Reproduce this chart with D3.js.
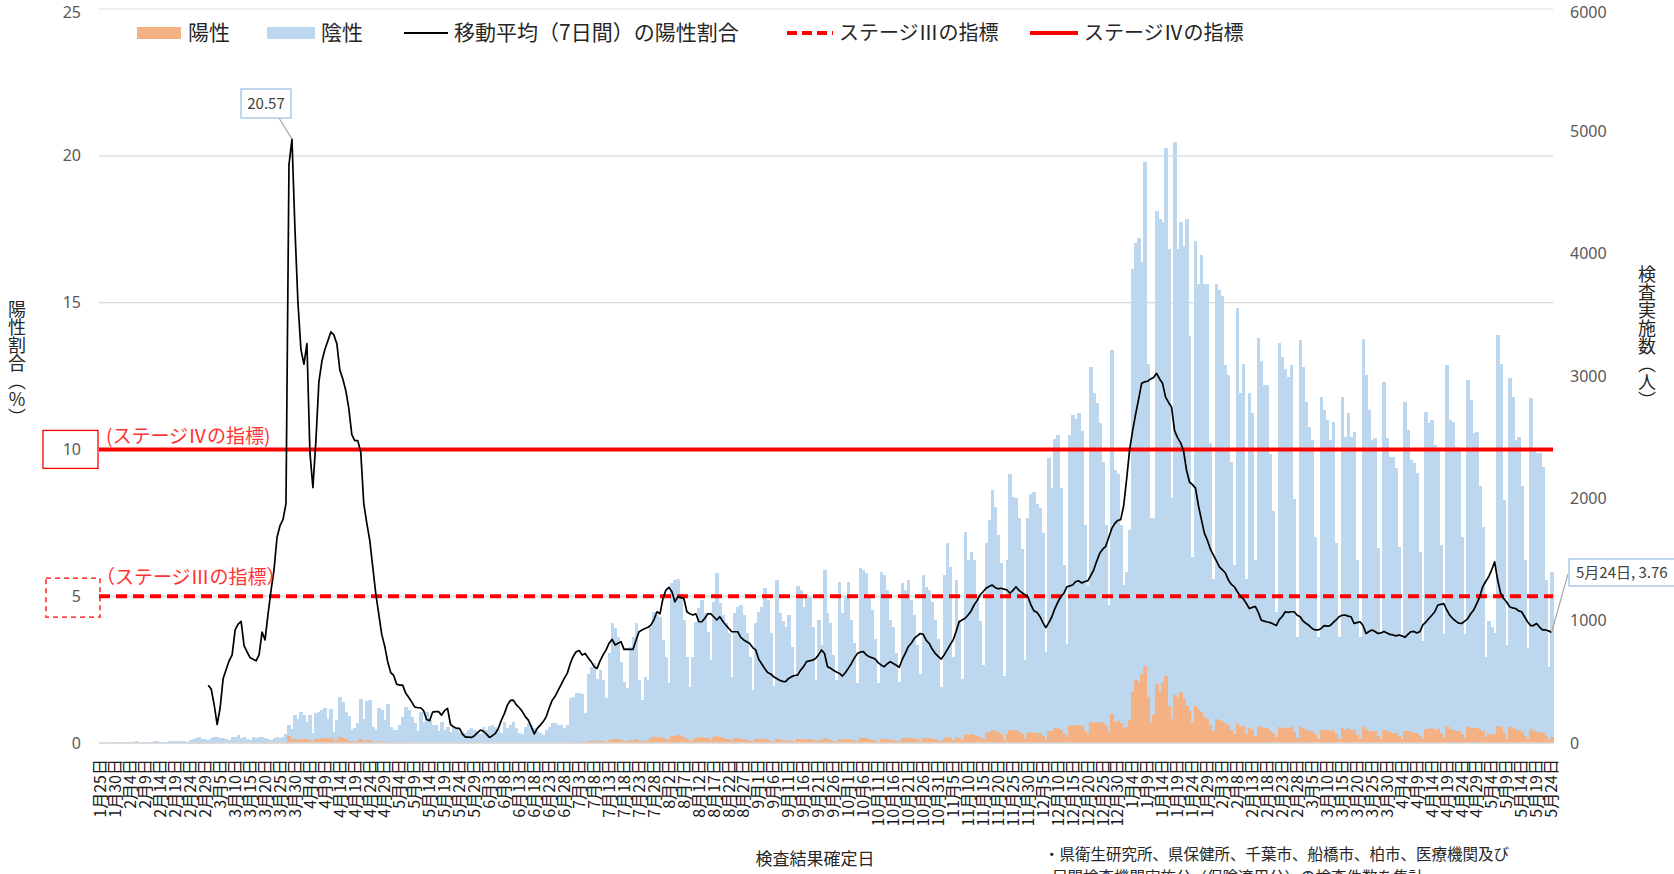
<!DOCTYPE html>
<html><head><meta charset="utf-8">
<script src="https://cdn.jsdelivr.net/npm/d3@7"></script>
<style>
body{margin:0;background:#fff;}
svg{display:block;font-family:"Noto Sans CJK JP","Noto Sans",sans-serif;}
</style></head><body>
<svg id="chart" width="1674" height="874"></svg>
<script>
// ---- categories: daily result dates 2020-01-25 .. 2021-05-24 ----
const firstDay = new Date(2020, 0, 25);
const lastDayExclusive = new Date(2021, 4, 25);
const dates = d3.timeDay.range(firstDay, lastDayExclusive);

// ---- 陽性 (positive), daily, weeks Sat..Fri ----
const positive = [
0,0,0,0,0,0,0, 0,0,0,0,0,0,0, 0,0,0,0,1,0,0, 0,0,0,1,0,0,0, 0,0,0,0,0,1,0,
1,0,1,0,0,1,1, 1,1,2,2,1,1,2, 1,1,2,1,1,2,1, 2,3,5,6,5,4,8, 60,25,30,28,33,35,30,
25,10,32,35,38,40,30, 38,15,25,45,40,32,18, 14,12,18,35,20,28,25, 10,5,14,12,8,10,5,
3,3,4,5,6,4,3, 2,1,3,2,3,2,2, 2,1,2,1,1,1,0, 1,0,0,0,1,0,0, 0,0,1,0,0,1,0,
1,0,2,2,3,2,1, 1,1,2,1,1,1,0, 0,1,1,2,2,3,3, 3,2,4,8,10,12,12, 11,6,14,15,16,15,18,
15,12,25,30,32,30,22, 18,14,25,28,32,18,14, 20,18,38,45,50,48,40, 35,25,60,58,62,55,45,
30,20,25,40,45,48,42, 38,28,45,55,45,38,35, 30,20,38,40,36,30,25, 20,14,30,32,30,32,28,
20,10,30,24,22,20,22, 18,12,32,30,28,30,32, 25,14,25,22,40,30,25, 18,12,32,28,32,35,26,
22,14,40,38,38,32,28, 22,12,36,35,32,26,24, 18,14,38,40,42,40,36, 30,20,44,40,38,34,30,
24,14,42,48,45,28,48, 40,22,70,62,70,68,55, 48,32,80,92,105,95,90, 75,28,70,110,100,104,90,
75,30,85,88,85,80,78, 60,28,100,95,120,125,105, 75,45,135,145,140,150,135, 95,75,170,165,175,170,160,
140,90,240,175,180,160,120, 130,190,420,517,500,560,630, 380,160,225,485,420,500,550, 300,200,390,380,420,360,300,
260,160,300,280,250,215,200, 150,100,200,190,180,160,150, 110,70,160,130,140,70,120, 110,60,140,130,120,120,100,
80,45,130,125,125,125,130, 90,40,140,125,110,100,100, 70,35,110,105,105,100,105, 70,35,120,110,120,110,110,
65,36,130,115,100,95,95, 60,32,110,95,90,85,85, 60,32,100,95,90,85,85, 60,35,115,115,120,110,115,
80,42,140,115,105,100,100, 75,40,130,125,120,125,110, 95,50,75,70,65,140,130, 85,35,130,125,110,110,90,
60,30,115,95,90,90,85, 55,22,50
];

// ---- 検査実施数 (tests = 陽性 + 陰性), daily, weeks Sat..Fri ----
const tested = [
2,1,3,4,3,5,6, 8,4,10,12,9,14,10, 7,5,10,12,15,14,12, 10,8,15,18,20,16,18, 14,10,25,30,38,46,35,
30,22,40,45,52,38,44, 35,26,48,52,65,44,50, 30,24,45,40,52,48,38, 32,28,44,50,40,52,70, 150,118,230,200,250,229,174,
229,82,248,256,270,283,200, 280,92,188,378,337,256,220, 106,120,161,357,200,346,350, 133,110,283,270,188,320,133,
106,110,147,215,297,270,215, 161,100,256,174,256,188,147, 147,100,174,106,133,92,130, 106,80,92,80,110,120,110, 100,70,130,110,140,147,130,
110,80,174,120,150,174,120, 85,70,133,161,150,120,100, 79,65,106,133,161,161,150, 150,120,147,365,380,406,406, 400,245,560,620,650,520,600,
515,365,733,978,937,869,665, 500,447,787,869,978,515,351, 542,515,951,1073,1046,1032,841, 700,488,1304,1331,1337,1222,1005,
706,461,700,992,1100,1168,1059, 910,679,1155,1392,1141,1050,978, 896,542,1059,1114,1127,1050,896, 700,433,978,1073,1114,1264,1168,
896,470,1331,1059,1000,950,1050, 787,542,1283,1250,1114,1209,1195, 951,515,1005,800,1413,1059,980, 719,515,1318,1059,1200,1318,1005,
815,488,1427,1413,1386,1200,1087, 850,488,1400,1372,1250,1005,950, 733,502,1304,1250,1331,1168,1050, 800,560,1372,1277,1250,1150,1005,
850,461,1372,1631,1440,706,1331, 1005,520,1726,1495,1563,1495,1195, 1000,638,1631,1822,2067,1931,1700, 1468,545,1500,2198,2013,2004,1843,
1584,679,1843,2036,2052,1956,1924, 1713,743,2327,2085,2489,2521,2085, 1455,808,2521,2683,2650,2699,2553, 1778,1293,3070,2860,2779,2618,2295,
1778,1132,3215,2230,2198,1778,1293, 1400,1745,3877,4085,4130,3935,4750, 3100,1843,1843,4346,4282,4260,4863, 4039,2004,4911,4039,4262,4066,4282,
3328,1520,4100,3755,3990,3755,3755, 2456,1342,3749,3700,3652,3087,3006, 2295,1455,3554,2860,3102,1342,2860, 2700,1500,3312,3122,2925,2925,2360,
1900,1067,3266,3156,3055,2993,3088, 1993,868,3292,3075,2790,2586,2478, 1686,868,2832,2723,2641,2478,2627, 1632,870,2832,2505,2695,2505,2546,
1500,870,3306,3007,2723,2478,2491, 1591,890,2953,2491,2341,2341,2250, 1605,870,2790,2559,2314,2287,2205, 1564,830,2709,2614,2641,2437,2410,
1618,890,3088,2641,2627,2423,2396, 1686,890,2966,2802,2530,2545,2100, 1767,700,1000,950,900,3333,3102, 1986,800,2980,2832,2478,2505,2097,
1500,776,2818,2396,2369,2369,2258, 1332,623,1400
];

// ---- 移動平均（7日間）の陽性割合 (%), starts at day index 36 (3月1日) ----
const ratioStart = 36;
const ratio7 = [
1.97,1.84,1.3,0.63,1.2,2.2,2.5,2.8,3.0,3.85,
4.05,4.14,3.31,3.1,2.91,2.85,2.8,3.0,3.78,3.51,
4.39,5.2,5.9,7.0,7.4,7.61,8.15,19.7,20.57,17.5,
15.0,13.4,12.9,13.6,9.9,8.7,10.3,12.3,13.0,13.4,
13.7,14.0,13.9,13.6,12.7,12.4,12.0,11.4,10.5,10.3,
10.3,9.9,8.15,7.5,6.9,6.0,5.1,4.4,3.7,3.3,
2.77,2.4,2.3,2.0,1.97,1.97,1.7,1.56,1.4,1.23,
1.2,1.2,1.1,0.8,0.76,1.05,1.07,1.07,0.95,1.1,
1.18,0.63,0.55,0.5,0.5,0.3,0.2,0.2,0.19,0.25,
0.35,0.44,0.4,0.3,0.19,0.25,0.33,0.5,0.78,1.0,
1.29,1.45,1.46,1.3,1.2,1.07,0.9,0.78,0.55,0.31,
0.5,0.61,0.73,0.9,1.2,1.46,1.6,1.8,2.0,2.2,
2.37,2.7,2.95,3.11,3.15,3.0,3.05,2.9,2.77,2.6,
2.54,2.8,3.0,3.17,3.4,3.53,3.34,3.4,3.45,3.19,
3.2,3.19,3.19,3.5,3.79,3.85,3.9,3.94,4.02,4.2,
4.47,4.4,4.92,5.21,5.3,5.15,4.81,4.98,4.95,4.92,
4.47,4.4,4.36,4.4,4.13,4.13,4.25,4.4,4.4,4.3,
4.19,4.3,4.15,4.02,3.9,3.79,3.79,3.79,3.6,3.51,
3.45,3.39,3.25,3.17,2.85,2.7,2.54,2.4,2.35,2.26,
2.2,2.14,2.1,2.09,2.2,2.26,2.3,2.31,2.48,2.6,
2.77,2.8,2.82,2.88,3.0,3.17,3.05,2.6,2.55,2.48,
2.42,2.37,2.28,2.4,2.55,2.71,2.9,3.05,3.1,3.11,
3.0,2.94,2.9,2.85,2.73,2.65,2.6,2.7,2.77,2.71,
2.65,2.58,2.85,3.05,3.28,3.4,3.56,3.65,3.73,3.7,
3.5,3.39,3.2,3.05,2.95,2.86,3.0,3.17,3.35,3.51,
3.8,4.13,4.19,4.25,4.36,4.5,4.7,4.85,5.04,5.15,
5.27,5.33,5.38,5.3,5.25,5.27,5.24,5.21,5.1,5.2,
5.32,5.2,5.12,5.05,4.98,4.7,4.5,4.45,4.31,4.1,
3.93,4.1,4.3,4.58,4.8,4.98,5.1,5.32,5.35,5.39,
5.5,5.52,5.45,5.5,5.52,5.7,5.9,6.2,6.46,6.6,
6.7,7.0,7.3,7.47,7.58,7.61,8.08,9.0,10.0,10.64,
11.2,11.71,12.25,12.3,12.32,12.4,12.45,12.59,12.4,12.25,
11.78,11.6,11.44,10.64,10.4,10.23,9.96,9.29,8.89,8.8,
8.68,8.08,7.6,7.14,6.9,6.6,6.4,6.2,6.0,5.9,
5.79,5.55,5.4,5.32,5.15,5.0,4.91,4.75,4.58,4.62,
4.65,4.45,4.18,4.15,4.12,4.1,4.05,4.0,4.2,4.31,
4.47,4.45,4.47,4.47,4.35,4.3,4.15,4.07,4.0,3.9,
3.85,3.85,3.9,4.0,3.98,4.0,4.1,4.19,4.3,4.35,
4.36,4.32,4.3,4.07,4.1,4.13,4.0,3.73,3.8,3.85,
3.8,3.73,3.75,3.8,3.75,3.7,3.68,3.65,3.68,3.65,
3.6,3.7,3.79,3.8,3.75,3.79,4.02,4.12,4.24,4.35,
4.47,4.7,4.72,4.75,4.53,4.35,4.24,4.15,4.08,4.07,
4.15,4.24,4.4,4.53,4.75,4.98,5.32,5.5,5.66,5.9,
6.17,5.55,5.1,4.92,4.8,4.64,4.6,4.58,4.5,4.47,
4.3,4.13,4.0,4.0,4.07,3.95,3.85,3.85,3.82,3.76
];

// ---- thresholds and ticks ----
const stage3 = 5, stage4 = 10;
const leftTicks = [0, 5, 10, 15, 20, 25];
const rightTicks = [0, 1000, 2000, 3000, 4000, 5000, 6000];
const xTickStep = 5;
const xTickIndex = d3.range(0, dates.length, xTickStep);
const xTickLabels = xTickIndex.map(i => (dates[i].getMonth()+1) + "月" + dates[i].getDate() + "日");
const legendLabels = ["陽性", "陰性", "移動平均（7日間）の陽性割合", "ステージⅢの指標", "ステージⅣの指標"];
const peakLabel = "20.57";
const lastLabel = "5月24日, 3.76";

// ---- drawing ----
const svg = d3.select("#chart");
const L = 99, R = 1553, B = 743, T = 9;
const x = d3.scaleBand().domain(d3.range(dates.length)).range([L, R]).padding(0);
const bw = x.bandwidth();
const yL = d3.scaleLinear().domain([0, 25]).range([B, T]);
const yR = d3.scaleLinear().domain([0, 6000]).range([B, T]);
const txt = "#595959";

// grid
svg.append("g").selectAll("line").data(leftTicks).join("line")
  .attr("x1", L).attr("x2", R).attr("y1", d => yL(d)).attr("y2", d => yL(d))
  .attr("stroke", "#d9d9d9").attr("stroke-width", 1.2);

// bars
svg.append("g").attr("shape-rendering", "crispEdges").selectAll("rect").data(tested).join("rect")
  .attr("x", (d, i) => x(i)).attr("width", bw + 0.5)
  .attr("y", d => yR(d)).attr("height", d => B - yR(d)).attr("fill", "#bdd7ee");
svg.append("g").attr("shape-rendering", "crispEdges").selectAll("rect").data(positive).join("rect")
  .attr("x", (d, i) => x(i)).attr("width", bw + 0.5)
  .attr("y", d => yR(d)).attr("height", d => B - yR(d)).attr("fill", "#f4b183");

// baseline
svg.append("line").attr("x1", L).attr("x2", R).attr("y1", B).attr("y2", B).attr("stroke", "#d9d9d9").attr("stroke-width", 1.5);

// stage lines
svg.append("line").attr("x1", L).attr("x2", R).attr("y1", yL(stage4)).attr("y2", yL(stage4))
  .attr("stroke", "#ff0000").attr("stroke-width", 4);
svg.append("line").attr("x1", L).attr("x2", R).attr("y1", yL(stage3)).attr("y2", yL(stage3))
  .attr("stroke", "#ff0000").attr("stroke-width", 4).attr("stroke-dasharray", "11,6");

// ratio line
const line = d3.line().x((d, k) => x(ratioStart + k) + bw / 2).y(d => yL(d));
svg.append("path").datum(ratio7).attr("d", line).attr("fill", "none")
  .attr("stroke", "#000").attr("stroke-width", 1.7).attr("stroke-linejoin", "round");

// left axis labels
svg.append("g").selectAll("text").data(leftTicks).join("text")
  .attr("x", 81).attr("y", d => Math.max(yL(d), 12)).attr("dy", "0.35em").attr("text-anchor", "end")
  .attr("font-size", 16).attr("font-family", '"Noto Sans",sans-serif').attr("fill", txt).text(d => d);
// right axis labels
svg.append("g").selectAll("text").data(rightTicks).join("text")
  .attr("x", 1570).attr("y", d => Math.max(yR(d), 12)).attr("dy", "0.35em").attr("text-anchor", "start")
  .attr("font-size", 16).attr("font-family", '"Noto Sans",sans-serif').attr("fill", txt).text(d => d);

// boxes around 10 and 5
svg.append("rect").attr("x", 43).attr("y", yL(stage4) - 19).attr("width", 55).attr("height", 38)
  .attr("fill", "none").attr("stroke", "#ff0000").attr("stroke-width", 1.3);
svg.append("rect").attr("x", 46).attr("y", yL(stage3) - 18).attr("width", 54).attr("height", 39)
  .attr("fill", "none").attr("stroke", "#ff0000").attr("stroke-width", 1.3).attr("stroke-dasharray", "5,4");

// stage annotations
svg.append("text").attr("x", 106).attr("y", yL(stage4) - 6).attr("font-size", 19).attr("fill", "#ff3333")
  .text("(ステージⅣの指標)");
svg.append("text").attr("x", 96).attr("y", yL(stage3) - 12).attr("font-size", 19).attr("fill", "#ff3333")
  .text("（ステージⅢの指標）");

// x axis tick labels
const xa = svg.append("g").attr("transform", `translate(0,${B})`)
  .call(d3.axisBottom(x).tickValues(xTickIndex).tickFormat((d, k) => xTickLabels[k]).tickSize(0));
xa.select(".domain").remove();
xa.selectAll("text").attr("transform", "rotate(-90)").attr("x", -16).attr("y", 0).attr("dy", "0.36em")
  .style("text-anchor", "end").attr("font-size", 16).attr("fill", "#1a1a1a")
  .attr("font-family", '"Noto Sans CJK JP",sans-serif');

// axis titles
svg.append("text").attr("x", 815).attr("y", 865).attr("text-anchor", "middle").attr("font-size", 17).attr("fill", "#262626").text("検査結果確定日");
svg.append("text").attr("x", 17).attr("y", 363).attr("text-anchor", "middle").attr("font-size", 18).attr("fill", "#262626")
  .style("writing-mode", "vertical-rl").style("text-orientation", "upright").text("陽性割合（%）");
svg.append("text").attr("x", 1647).attr("y", 337).attr("text-anchor", "middle").attr("font-size", 18).attr("fill", "#262626")
  .style("writing-mode", "vertical-rl").style("text-orientation", "upright").text("検査実施数（人）");

// footnote
svg.append("text").attr("x", 1044).attr("y", 860).attr("font-size", 15.5).attr("fill", "#262626")
  .text("・県衛生研究所、県保健所、千葉市、船橋市、柏市、医療機関及び");
svg.append("text").attr("x", 1052).attr("y", 883).attr("font-size", 15.5).attr("fill", "#262626")
  .text("民間検査機関実施分（保険適用分）の検査件数を集計");

// legend
const lg = svg.append("g").attr("font-size", 21).attr("fill", "#262626");
const ly = 33;
lg.append("rect").attr("x", 137).attr("y", ly - 6).attr("width", 44).attr("height", 12).attr("fill", "#f4b183");
lg.append("text").attr("x", 188).attr("y", ly).attr("dy", "0.35em").text(legendLabels[0]);
lg.append("rect").attr("x", 267).attr("y", ly - 6).attr("width", 48).attr("height", 12).attr("fill", "#bdd7ee");
lg.append("text").attr("x", 321).attr("y", ly).attr("dy", "0.35em").text(legendLabels[1]);
lg.append("line").attr("x1", 404).attr("x2", 448).attr("y1", ly).attr("y2", ly).attr("stroke", "#000").attr("stroke-width", 2);
lg.append("text").attr("x", 454).attr("y", ly).attr("dy", "0.35em").text(legendLabels[2]);
lg.append("line").attr("x1", 787).attr("x2", 833).attr("y1", ly).attr("y2", ly).attr("stroke", "#ff0000").attr("stroke-width", 4).attr("stroke-dasharray", "10,5");
lg.append("text").attr("x", 839).attr("y", ly).attr("dy", "0.35em").attr("font-size", 20).text(legendLabels[3]);
lg.append("line").attr("x1", 1030).attr("x2", 1078).attr("y1", ly).attr("y2", ly).attr("stroke", "#ff0000").attr("stroke-width", 4);
lg.append("text").attr("x", 1084).attr("y", ly).attr("dy", "0.35em").attr("font-size", 20).text(legendLabels[4]);

// data labels
const peakIdx = d3.maxIndex(ratio7);
const px = x(ratioStart + peakIdx) + bw / 2, py = yL(ratio7[peakIdx]);
svg.append("line").attr("x1", 279).attr("y1", 118).attr("x2", px).attr("y2", py).attr("stroke", "#a6a6a6").attr("stroke-width", 1.2);
svg.append("rect").attr("x", 241).attr("y", 89).attr("width", 50).attr("height", 29).attr("fill", "#fff").attr("stroke", "#9dc3e6").attr("stroke-width", 1.3);
svg.append("text").attr("x", 266).attr("y", 104).attr("dy", "0.35em").attr("text-anchor", "middle").attr("font-size", 15).attr("fill", "#404040").text(peakLabel);

const li = ratio7.length - 1;
const lx = x(ratioStart + li) + bw / 2, lyy = yL(ratio7[li]);
svg.append("line").attr("x1", 1568).attr("y1", 574).attr("x2", lx).attr("y2", lyy).attr("stroke", "#a6a6a6").attr("stroke-width", 1.2);
svg.append("rect").attr("x", 1569).attr("y", 559).attr("width", 120).attr("height", 27).attr("fill", "#fff").attr("stroke", "#9dc3e6").attr("stroke-width", 1.3);
svg.append("text").attr("x", 1576).attr("y", 572.5).attr("dy", "0.35em").attr("font-size", 15).attr("fill", "#404040").text(lastLabel);
</script>
</body></html>
